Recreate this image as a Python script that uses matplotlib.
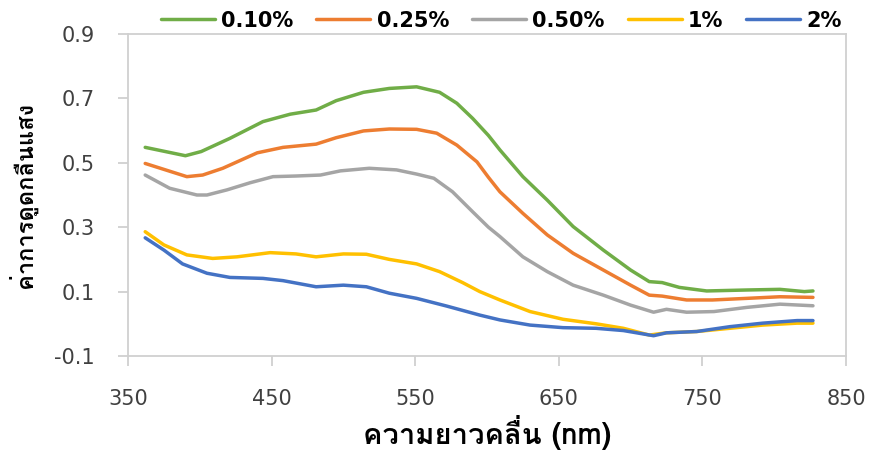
import matplotlib
matplotlib.use("Agg")
import matplotlib.pyplot as plt
from matplotlib import font_manager
from matplotlib.ft2font import FT2Font

# wavelength (nm) / absorbance
wl_010 = [362, 390, 401, 421, 444, 463, 481, 495, 514, 532, 551, 567, 579, 590, 601,
          609, 625, 642, 660, 681, 700, 713, 722, 734, 753, 781, 804, 821, 827]
ab_010 = [0.548, 0.522, 0.535, 0.576, 0.628, 0.651, 0.664, 0.693, 0.719, 0.731, 0.736,
          0.719, 0.685, 0.638, 0.585, 0.540, 0.457, 0.384, 0.302, 0.229, 0.167, 0.131,
          0.128, 0.113, 0.102, 0.105, 0.107, 0.100, 0.102]

wl_025 = [362, 391, 402, 416, 440, 458, 481, 495, 514, 532, 551, 565, 579, 593, 601,
          609, 625, 642, 660, 681, 700, 713, 722, 739, 757, 781, 804, 827]
ab_025 = [0.498, 0.457, 0.462, 0.483, 0.531, 0.548, 0.558, 0.578, 0.599, 0.605, 0.604,
          0.592, 0.555, 0.503, 0.455, 0.410, 0.343, 0.276, 0.219, 0.167, 0.120, 0.089,
          0.086, 0.074, 0.074, 0.079, 0.084, 0.082]

wl_050 = [362, 379, 398, 405, 419, 435, 451, 467, 484, 498, 518, 537, 551, 563, 576,
          590, 601, 609, 625, 642, 660, 681, 700, 716, 725, 739, 758, 781, 804, 827]
ab_050 = [0.462, 0.421, 0.400, 0.400, 0.416, 0.438, 0.457, 0.459, 0.462, 0.475, 0.483,
          0.478, 0.465, 0.452, 0.410, 0.348, 0.300, 0.271, 0.208, 0.162, 0.120, 0.089,
          0.058, 0.036, 0.045, 0.036, 0.038, 0.051, 0.061, 0.056]

wl_1 = [362, 375, 391, 409, 426, 449, 467, 481, 500, 516, 532, 551, 567, 583, 595,
        609, 630, 653, 676, 695, 713, 725, 746, 769, 792, 816, 827]
ab_1 = [0.286, 0.245, 0.214, 0.203, 0.208, 0.221, 0.217, 0.208, 0.217, 0.216, 0.200,
        0.186, 0.162, 0.128, 0.100, 0.074, 0.038, 0.014, 0.000, -0.014, -0.035, -0.028,
        -0.024, -0.014, -0.004, 0.002, 0.002]

wl_2 = [362, 375, 388, 405, 421, 444, 458, 481, 500, 516, 532, 551, 572, 595, 609,
        630, 653, 676, 695, 716, 725, 746, 769, 792, 816, 827]
ab_2 = [0.267, 0.229, 0.186, 0.157, 0.144, 0.141, 0.134, 0.115, 0.120, 0.115, 0.095,
        0.079, 0.055, 0.027, 0.012, -0.004, -0.012, -0.014, -0.021, -0.037, -0.028,
        -0.024, -0.009, 0.002, 0.010, 0.010]

labels = ["0.10%", "0.25%", "0.50%", "1%", "2%"]
colors = ["#70AD47", "#ED7D31", "#A5A5A5", "#FFC000", "#4472C4"]
xticks = [350, 450, 550, 650, 750, 850]
yticks = [-0.1, 0.1, 0.3, 0.5, 0.7, 0.9]


def thai_font():
    for f in font_manager.fontManager.ttflist:
        try:
            if 0x0E04 in FT2Font(f.fname).get_charmap():
                return f.name
        except Exception:
            pass
    return None


tf = thai_font()
families = ([tf] if tf else []) + ["DejaVu Sans"]
plt.rcParams["font.family"] = ["DejaVu Sans"] + ([tf] if tf else [])

fig = plt.figure(figsize=(8.7, 4.5), dpi=100)
ax = fig.add_axes([0.1471, 0.2089, 0.8253, 0.7155])

series = [(wl_010, ab_010), (wl_025, ab_025), (wl_050, ab_050), (wl_1, ab_1), (wl_2, ab_2)]
for (x, y), lab, c in zip(series, labels, colors):
    ax.plot(x, y, color=c, linewidth=2.5, label=lab, solid_capstyle="round")

ax.set_xlim(350, 850)
ax.set_ylim(-0.1, 0.9)
ax.set_xticks(xticks)
ax.set_yticks(yticks)
ax.set_yticklabels(["%.1f" % v for v in yticks])

for s in ax.spines.values():
    s.set_color("#D0D0D0")
    s.set_linewidth(1.3)
ax.tick_params(axis="both", length=7, width=1.3, color="#D0D0D0",
               labelsize=15, labelcolor="#404040", pad=17)

ax.set_xlabel("ความยาวคลื่น (nm)", fontsize=21, fontweight="bold",
              family=families, labelpad=4)
ax.set_ylabel("ค่าการดูดกลืนแสง", fontsize=17, fontweight="bold",
              family=families, labelpad=12)

ax.legend(loc="lower center", bbox_to_anchor=(0.52, 0.985), ncol=5, frameon=False,
          prop={"weight": "bold", "size": 15}, handlelength=2.6,
          columnspacing=1.1, handletextpad=0.3, borderaxespad=0)

fig.savefig("out.png", dpi=100)
